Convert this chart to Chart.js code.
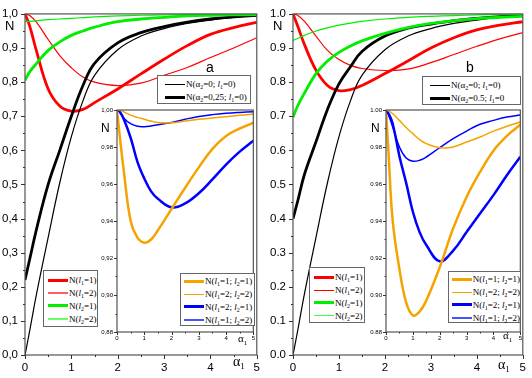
<!DOCTYPE html>
<html>
<head>
<meta charset="utf-8">
<script src="https://cdn.jsdelivr.net/npm/chart.js@4.4.1/dist/chart.umd.min.js"></script>
<style>
  body { margin: 0; background: #fff; }
  #page { position: relative; width: 532px; height: 378px; overflow: hidden; font-family: "Liberation Sans", Arial, sans-serif; }
  #page canvas { position: absolute; }
  .txt { position: absolute; line-height: 1; white-space: nowrap; color: #000; }
  .ser { font-family: "Liberation Serif", serif; }
  .lg { position: absolute; box-sizing: border-box; border: 1px solid #666; background: #fff; font-family: "Liberation Serif", serif; font-size: 9px; }
  .lg .row { display: flex; align-items: center; height: 12.8px; white-space: nowrap; }
  .lg .sw { display: inline-block; width: 20px; margin-right: 1px; }
  sub { font-size: 65%; vertical-align: baseline; position: relative; top: 0.35em; line-height: 0; }
</style>
</head>
<body>
<div id="page">
  <canvas id="mainA" width="266" height="378" style="left:0;top:0"></canvas>
  <canvas id="mainB" width="266" height="378" style="left:266px;top:0"></canvas>
  <canvas id="insetA" width="162" height="244" style="left:96px;top:102px"></canvas>
  <canvas id="insetB" width="160" height="244" style="left:365px;top:102px"></canvas>

  <div class="txt" style="left:5px;top:19px;font-size:13px">N</div>
  <div class="txt" style="left:273px;top:19px;font-size:13px">N</div>
  <div class="txt" style="left:206px;top:60px;font-size:14px">a</div>
  <div class="txt" style="left:466px;top:60px;font-size:14px">b</div>
  <div class="txt ser" style="left:233px;top:355px;font-size:14px">α<sub>1</sub></div>
  <div class="txt ser" style="left:498px;top:358px;font-size:14px">α<sub>1</sub></div>
  <div class="txt" style="left:101px;top:122px;font-size:12px">N</div>
  <div class="txt" style="left:371px;top:122px;font-size:12px">N</div>
  <div class="txt ser" style="left:238px;top:333px;font-size:11px">α<sub>1</sub></div>
  <div class="txt ser" style="left:503px;top:330px;font-size:11px">α<sub>1</sub></div>

  <div class="lg" id="lgTopA" style="left:157px;top:75px;width:94px;height:29px;padding:2px 0 0 7px"></div>
  <div class="lg" id="lgTopB" style="left:422px;top:76px;width:99px;height:29px;padding:2px 0 0 7px"></div>
  <div class="lg" id="lgLeftA" style="left:43px;top:270px;width:55px;height:57px;padding:3px 0 0 4px"></div>
  <div class="lg" id="lgLeftB" style="left:309px;top:267px;width:56px;height:56px;padding:3px 0 0 4px"></div>
  <div class="lg" id="lgInA" style="left:180px;top:273px;width:75px;height:53px;padding:1px 0 0 3px"></div>
  <div class="lg" id="lgInB" style="left:448px;top:271px;width:73px;height:52px;padding:1px 0 0 3px"></div>
</div>
<script>
// α1 grid shared by every curve
const alpha = [0, 0.1, 0.25, 0.5, 0.75, 1, 1.25, 1.5, 2, 2.5, 3, 3.5, 4, 4.5, 5];

// main panels
const nAlpha2Zero = [0, 0.07, 0.18, 0.345, 0.505, 0.64, 0.745, 0.82, 0.895, 0.935, 0.957, 0.972, 0.982, 0.99, 0.995];
const nAlpha2Q    = [0.22, 0.28, 0.37, 0.5, 0.6, 0.7, 0.79, 0.855, 0.915, 0.945, 0.963, 0.976, 0.985, 0.991, 0.996];
const nAlpha2H    = [0.4, 0.45, 0.53, 0.625, 0.72, 0.795, 0.845, 0.89, 0.935, 0.958, 0.97, 0.98, 0.987, 0.992, 0.996];

const aL1eq1 = [1, 0.965, 0.89, 0.78, 0.73, 0.715, 0.72, 0.74, 0.78, 0.824, 0.867, 0.907, 0.94, 0.96, 0.975];
const aL1eq2 = [1, 0.995, 0.975, 0.925, 0.878, 0.842, 0.815, 0.8, 0.79, 0.797, 0.82, 0.843, 0.872, 0.9, 0.93];
const aL2eq1 = [0.805, 0.83, 0.855, 0.893, 0.918, 0.937, 0.95, 0.961, 0.977, 0.985, 0.99, 0.994, 0.996, 0.997, 0.998];
const aL2eq2 = [0.977, 0.978, 0.98, 0.983, 0.985, 0.987, 0.989, 0.991, 0.994, 0.996, 0.997, 0.998, 0.9985, 0.999, 0.999];

const bL1eq1 = [1, 0.965, 0.91, 0.835, 0.79, 0.775, 0.778, 0.79, 0.825, 0.862, 0.9, 0.93, 0.953, 0.967, 0.977];
const bL1eq2 = [1, 0.996, 0.978, 0.935, 0.893, 0.866, 0.849, 0.84, 0.834, 0.838, 0.857, 0.881, 0.905, 0.927, 0.945];
const bL2eq1 = [0.697, 0.73, 0.768, 0.825, 0.862, 0.887, 0.906, 0.921, 0.943, 0.96, 0.972, 0.98, 0.986, 0.99, 0.993];
const bL2eq2 = [0.922, 0.928, 0.937, 0.95, 0.959, 0.967, 0.973, 0.978, 0.985, 0.99, 0.993, 0.995, 0.997, 0.998, 0.998];

// insets
const aL11 = [1, 0.986, 0.967, 0.94, 0.931, 0.9283, 0.93, 0.935, 0.9465, 0.958, 0.969, 0.979, 0.986, 0.99, 0.9931];
const aL22 = [1, 0.9998, 0.999, 0.9972, 0.996, 0.995, 0.994, 0.9932, 0.9931, 0.994, 0.995, 0.9957, 0.9964, 0.9971, 0.9978];
const aL21 = [1, 0.999, 0.995, 0.985, 0.972, 0.963, 0.956, 0.952, 0.9474, 0.9495, 0.955, 0.9625, 0.9705, 0.9775, 0.9834];
const aL12 = [1, 0.999, 0.9955, 0.9926, 0.9912, 0.991, 0.9914, 0.992, 0.9933, 0.995, 0.9965, 0.9975, 0.9982, 0.9987, 0.9991];

const bL11 = [1, 0.975, 0.94, 0.914, 0.896, 0.889, 0.891, 0.897, 0.915, 0.936, 0.953, 0.9665, 0.978, 0.986, 0.992];
const bL22 = [1, 0.9995, 0.998, 0.9944, 0.9905, 0.9872, 0.984, 0.9818, 0.9796, 0.98, 0.9827, 0.9854, 0.9886, 0.9912, 0.9935];
const bL21 = [1, 0.998, 0.9926, 0.975, 0.9606, 0.945, 0.934, 0.927, 0.9182, 0.924, 0.934, 0.944, 0.954, 0.9647, 0.9747];
const bL12 = [1, 0.997, 0.9908, 0.98, 0.974, 0.9723, 0.9728, 0.9746, 0.9796, 0.9845, 0.9886, 0.9923, 0.9944, 0.9962, 0.9973];

// legend labels
const topLabelsA = ['N(α<sub>2</sub>=0; <i>l</i><sub>1</sub>=0)', 'N(α<sub>2</sub>=0,25; <i>l</i><sub>1</sub>=0)'];
const topLabelsB = ['N(α<sub>2</sub>=0; <i>l</i><sub>1</sub>=0)', 'N(α<sub>2</sub>=0.5; <i>l</i><sub>1</sub>=0'];
const sideLabels = ['N(<i>l</i><sub>1</sub>=1)', 'N(<i>l</i><sub>1</sub>=2)', 'N(<i>l</i><sub>2</sub>=1)', 'N(<i>l</i><sub>2</sub>=2)'];
const insetLabels = ['N(<i>l</i><sub>1</sub>=1; <i>l</i><sub>2</sub>=1)', 'N(<i>l</i><sub>1</sub>=2; <i>l</i><sub>2</sub>=2)',
                     'N(<i>l</i><sub>1</sub>=2; <i>l</i><sub>2</sub>=1)', 'N(<i>l</i><sub>1</sub>=1; <i>l</i><sub>2</sub>=2)'];

const RED = '#ff0000', GREEN = '#00ee00', ORANGE = '#f5a300', BLUE = '#0000ff';
const THICK = 2.8, THIN = 1.2;

function pts(ys) {
  return alpha.map((a, i) => ({ x: a, y: ys[i] }));
}

function line(ys, color, w) {
  return { data: pts(ys), borderColor: color, borderWidth: w, pointRadius: 0, fill: false, tension: 0.4 };
}

// frame + small tick marks
const frameTicks = {
  id: 'frameTicks',
  beforeDraw(chart, args, o) {
    const a = chart.chartArea, ctx = chart.ctx;
    if (o.fillWhite) {
      ctx.save();
      ctx.fillStyle = '#fff';
      ctx.fillRect(a.left, a.top, a.right - a.left, a.bottom - a.top);
      ctx.restore();
    }
  },
  afterDraw(chart, args, o) {
    const a = chart.chartArea, ctx = chart.ctx;
    const x = chart.scales.x, y = chart.scales.y;
    ctx.save();
    ctx.strokeStyle = '#555';
    ctx.lineWidth = 1.2;
    ctx.strokeRect(a.left, a.top, a.right - a.left, a.bottom - a.top);
    ctx.lineWidth = 1;
    ctx.strokeStyle = '#333';
    ctx.beginPath();
    const isMajor = (v, s) => Math.abs(v / s - Math.round(v / s)) < 1e-6;
    for (let v = x.min; v <= x.max + 1e-9; v += o.xMinor) {
      const px = Math.round(x.getPixelForValue(v)) + 0.5;
      const len = isMajor(v, o.xStep) ? o.major : o.minor;
      ctx.moveTo(px, a.bottom);
      ctx.lineTo(px, a.bottom + len);
    }
    for (let v = y.min; v <= y.max + 1e-9; v += o.yMinor) {
      const py = Math.round(y.getPixelForValue(v)) + 0.5;
      const len = isMajor(v - y.min, o.yStep) ? o.major : o.minor;
      ctx.moveTo(a.left, py);
      ctx.lineTo(a.left - len, py);
    }
    ctx.stroke();
    ctx.restore();
  }
};

function makeChart(id, datasets, opt) {
  return new Chart(document.getElementById(id), {
    type: 'line',
    data: { datasets: datasets },
    plugins: [frameTicks],
    options: {
      responsive: false,
      devicePixelRatio: 1,
      animation: false,
      layout: { padding: { top: opt.padTop, right: opt.padRight, left: 0, bottom: 0 } },
      plugins: {
        legend: { display: false },
        tooltip: { enabled: false },
        frameTicks: opt.ticks
      },
      scales: {
        x: {
          type: 'linear', min: 0, max: 5,
          grid: { display: false, drawTicks: false }, border: { display: false },
          afterFit: s => { s.height = opt.xH; },
          ticks: { stepSize: 1, padding: opt.xPad, color: '#000', font: { size: opt.font, family: 'Liberation Sans' } }
        },
        y: {
          type: 'linear', min: opt.yMin, max: opt.yMax,
          grid: { display: false, drawTicks: false }, border: { display: false },
          afterFit: s => { s.width = opt.yW; },
          ticks: {
            stepSize: opt.yStep, padding: opt.yPad, color: '#000',
            font: { size: opt.font, family: 'Liberation Sans' },
            callback: v => v.toFixed(opt.dec).replace('.', opt.sep)
          }
        }
      }
    }
  });
}

const mainOpt = (sep, yW) => ({
  padTop: 7, padRight: 6, xH: 23, yW: yW, xPad: 6, yPad: 7, font: 11.5,
  yMin: 0, yMax: 1, yStep: 0.1, dec: 1, sep: sep,
  ticks: { xStep: 1, xMinor: 0.5, yStep: 0.1, yMinor: 0.05, major: 4, minor: 2 }
});
const insetOpt = (sep, padRight) => ({
  padTop: 8, padRight: padRight, xH: 14, yW: 21, xPad: 3, yPad: 4, font: 6,
  yMin: 0.88, yMax: 1.0, yStep: 0.02, dec: 2, sep: sep,
  ticks: { xStep: 1, xMinor: 0.5, yStep: 0.02, yMinor: 0.01, major: 3, minor: 1.5, fillWhite: true }
});

makeChart('mainA', [
  line(aL2eq2, GREEN, THIN), line(aL2eq1, GREEN, THICK),
  line(nAlpha2Zero, '#000', THIN), line(nAlpha2Q, '#000', THICK),
  line(aL1eq2, RED, THIN), line(aL1eq1, RED, THICK)
], mainOpt(',', 25));

makeChart('mainB', [
  line(bL2eq2, GREEN, THIN), line(bL2eq1, GREEN, THICK),
  line(nAlpha2Zero, '#000', THIN), line(nAlpha2H, '#000', THICK),
  line(bL1eq2, RED, THIN), line(bL1eq1, RED, THICK)
], mainOpt('.', 27));

makeChart('insetA', [
  line(aL22, ORANGE, 1.5), line(aL12, BLUE, 1.5),
  line(aL11, ORANGE, 2.5), line(aL21, BLUE, 2.5)
], insetOpt(',', 3));

makeChart('insetB', [
  line(bL22, ORANGE, 1.5), line(bL12, BLUE, 1.5),
  line(bL11, ORANGE, 2.5), line(bL21, BLUE, 2.5)
], insetOpt('.', 4));

// html legends
function legend(id, labels, colors, widths) {
  const el = document.getElementById(id);
  el.innerHTML = labels.map((t, i) =>
    '<div class="row"><span class="sw" style="border-top:' + widths[i] + 'px solid ' + colors[i] + '"></span><span>' + t + '</span></div>'
  ).join('');
}
legend('lgTopA', topLabelsA, ['#000', '#000'], [1.5, 3]);
legend('lgTopB', topLabelsB, ['#000', '#000'], [1.5, 3]);
legend('lgLeftA', sideLabels, [RED, '#ff6060', GREEN, '#66ff66'], [3, 2, 3, 2]);
legend('lgLeftB', sideLabels, [RED, RED, GREEN, '#44ff44'], [3, 1.5, 3, 1.5]);
legend('lgInA', insetLabels, [ORANGE, ORANGE, BLUE, '#4455ff'], [3, 1.5, 3, 2]);
legend('lgInB', insetLabels, [ORANGE, ORANGE, BLUE, '#4455ff'], [3, 1.5, 3, 2]);
</script>
</body>
</html>
